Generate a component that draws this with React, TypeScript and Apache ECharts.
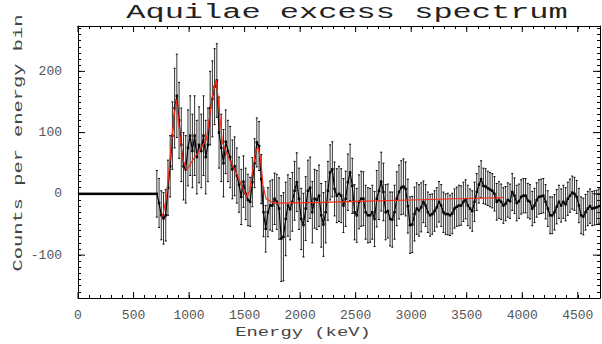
import React, { useEffect, useRef } from "react";
import * as echarts from "echarts";

// Bin width (keV) and bin start energies
const BIN_WIDTH = 20;
// Region below ~700 keV: no counts (zero, no error bars)
const zeroRegion = [
  0, 0, 0, 0, 0, 0, 0, 0, 0, 0,
  0, 0, 0, 0, 0, 0, 0, 0, 0, 0,
  0, 0, 0, 0, 0, 0, 0, 0, 0, 0,
  0, 0, 0, 0, 0,
];
// 710 .. 1470 keV
const counts1 = [
  0, -15, -35, -40, -35, 10, 45, 95, 140, 160,
  120, 80, 45, 40, 75, 95, 70, 95, 60, 80,
  70, 95, 60, 80, 140, 155, 175, 185, 100, 75,
  50, 85, 70, 60, 40, 45, 30, 15, -5,
];
const errors1 = [
  38, 40, 40, 42, 42, 45, 50, 55, 65, 68,
  62, 60, 55, 55, 62, 65, 60, 65, 60, 62,
  60, 65, 60, 60, 60, 62, 62, 60, 58, 55,
  55, 52, 50, 50, 48, 48, 45, 45, 45,
];
// 1490 .. 2270 keV
const counts2 = [
  20, 0, -10, -13, 19, 50, 84, 78, 24, -30,
  -57, -30, -19, -19, -8, -13, -24, -73, -70, -41,
  -19, -25, -13, 5, 19, -8, -41, -51, -24, 5,
  10, -30, -8, -10, -3, -35, -50, -30, 5, 35,
];
const errors2 = [
  42, 42, 42, 40, 40, 40, 40, 40, 40, 40,
  38, 40, 40, 42, 42, 45, 50, 70, 72, 60,
  50, 50, 48, 48, 48, 50, 50, 52, 52, 50,
  50, 50, 48, 48, 50, 52, 52, 50, 48, 45,
];
// 2290 .. 3090 keV
const counts3 = [
  40, 8, -3, 0, -3, -19, -8, 19, 35, 13,
  -30, -35, -13, -8, -8, -30, -35, -35, -30, -41,
  -8, 5, 20, 3, -30, -28, -41, -42, -30, -8,
  3, 10, 12, 8, -20, -51, -50, -33, -24, -27,
  -22,
];
const errors3 = [
  45, 44, 44, 45, 44, 44, 45, 46, 46, 45,
  45, 44, 44, 45, 44, 44, 45, 44, 44, 45,
  46, 47, 48, 47, 45, 44, 44, 45, 44, 44,
  44, 44, 45, 44, 44, 46, 46, 44, 42, 42,
  40,
];
// 3110 .. 3890 keV
const counts4 = [
  -13, -19, -30, -35, -33, -28, -22, -13, -19, -30,
  -33, -33, -35, -32, -24, -21, -19, -19, -13, -9,
  -19, -24, -28, -13, 3, 15, 24, 13, 12, 9,
  7, 5, 0, -13, -10, -13, -19, -16, -10, -12,
];
const errors4 = [
  34, 34, 33, 34, 33, 33, 32, 33, 34, 33,
  33, 34, 33, 33, 32, 32, 33, 32, 32, 32,
  33, 32, 33, 32, 30, 30, 30, 29, 29, 28,
  28, 28, 28, 30, 30, 29, 29, 28, 28, 28,
];
// 3910 .. 4690 keV
const counts5 = [
  3, -3, -15, -12, -5, -3, -3, -11, -13, -24,
  -19, -10, -5, -4, -3, -13, -24, -35, -35, -30,
  -21, -13, -19, -13, -17, -8, -3, 2, 0, -5,
  -19, -35, -37, -30, -24, -20, -24, -23, -22, -20,
];
const errors5 = [
  30, 29, 29, 28, 28, 28, 28, 28, 28, 28,
  28, 28, 28, 28, 28, 28, 29, 30, 30, 29,
  28, 27, 27, 27, 27, 27, 27, 27, 27, 27,
  28, 30, 30, 29, 28, 28, 28, 28, 28, 28,
];

// Fitted model (red curve)
const modelEnergy = [
  750, 770, 800, 830, 860, 887, 910, 940, 975, 1000,
  1050, 1100, 1156, 1180, 1210, 1245, 1270, 1300, 1340, 1380,
  1425, 1470, 1500, 1523, 1545, 1570, 1600, 1622, 1645, 1665,
  1693, 1740, 1783, 2200, 2600, 3000, 3400, 3825,
];
const modelValue = [
  -39, -30, 0, 60, 120, 154, 110, 60, 40, 45,
  60, 72, 89, 120, 160, 186, 140, 84, 65, 50,
  35, 15, 2, -5, 5, 35, 70, 76, 55, 15,
  -8, -13, -15, -14, -12, -10, -8, -6,
];

const xTickLabels = [0, 500, 1000, 1500, 2000, 2500, 3000, 3500, 4000, 4500];
const yTickLabels = [-100, 0, 100, 200];

const X_MIN = 0;
const X_MAX = 4700;
const Y_MIN = -170;
const Y_MAX = 274;

const FONT = '"Liberation Mono", "DejaVu Sans Mono", monospace';

export default function App() {
  const ref = useRef<HTMLDivElement>(null);

  useEffect(() => {
    if (!ref.current) return;
    const chart = echarts.init(ref.current, undefined, { renderer: "svg" });

    const allCounts = [...zeroRegion, ...counts1, ...counts2, ...counts3, ...counts4, ...counts5];
    const allErrors = [
      ...zeroRegion.map(() => 0),
      ...errors1, ...errors2, ...errors3, ...errors4, ...errors5,
    ];
    const points = allCounts.map((v, i) => [i * BIN_WIDTH + BIN_WIDTH / 2, v]);
    const errData = allCounts
      .map((v, i) => [i * BIN_WIDTH + BIN_WIDTH / 2, v, allErrors[i]])
      .filter((d) => d[2] > 0);
    const modelData = modelEnergy.map((e, i) => [e, modelValue[i]]);

    const axisCommonX = {
      type: "value" as const,
      min: X_MIN,
      max: X_MAX,
      interval: 100,
      splitLine: { show: false },
      axisLine: { show: true, onZero: false, lineStyle: { color: "#000", width: 1 } },
      axisTick: { show: true, inside: true, length: 3, lineStyle: { color: "#000", width: 1 } },
    };
    const axisCommonY = {
      type: "value" as const,
      min: Y_MIN,
      max: Y_MAX,
      interval: 10,
      splitLine: { show: false },
      axisLine: { show: true, onZero: false, lineStyle: { color: "#000", width: 1 } },
      axisTick: { show: true, inside: true, length: 3, lineStyle: { color: "#000", width: 1 } },
    };

    const option: any = {
      animation: false,
      backgroundColor: "#fff",
      grid: { left: 78, right: 2, top: 26, bottom: 46, containLabel: false },
      xAxis: [
        {
          ...axisCommonX,
          position: "bottom",
          axisLabel: {
            show: true,
            margin: 11,
            color: "#555",
            fontFamily: FONT,
            fontSize: 13,
            showMaxLabel: false,
            formatter: (v: number) => (xTickLabels.includes(v) ? String(v) : ""),
          },
        },
        { ...axisCommonX, position: "top", axisLabel: { show: false } },
      ],
      yAxis: [
        {
          ...axisCommonY,
          position: "left",
          axisLabel: {
            show: true,
            margin: 16,
            color: "#555",
            fontFamily: FONT,
            fontSize: 13,
            showMinLabel: false,
            showMaxLabel: false,
            formatter: (v: number) => (yTickLabels.includes(v) ? String(v) : ""),
          },
        },
        { ...axisCommonY, position: "right", axisLabel: { show: false } },
      ],
      graphic: [
        {
          type: "text",
          x: 347,
          y: 13,
          scaleX: 1.6,
          style: {
            text: "Aquilae excess spectrum",
            font: `20px ${FONT}`,
            fill: "#222",
            align: "center",
            verticalAlign: "middle",
            textAlign: "center",
            textVerticalAlign: "middle",
          },
        },
        {
          type: "text",
          x: 303,
          y: 333,
          scaleX: 1.57,
          style: {
            text: "Energy (keV)",
            font: `12px ${FONT}`,
            fill: "#444",
            align: "center",
            verticalAlign: "middle",
            textAlign: "center",
            textVerticalAlign: "middle",
          },
        },
        {
          type: "text",
          x: 19,
          y: 143,
          rotation: Math.PI / 2,
          scaleX: 1.7,
          style: {
            text: "Counts per energy bin",
            font: `12px ${FONT}`,
            fill: "#444",
            align: "center",
            verticalAlign: "middle",
            textAlign: "center",
            textVerticalAlign: "middle",
          },
        },
      ],
      series: [
        {
          name: "errors",
          type: "custom",
          data: errData,
          encode: { x: 0, y: 1 },
          z: 2,
          renderItem: (params: any, api: any) => {
            const x = api.value(0);
            const v = api.value(1);
            const e = api.value(2);
            const top = api.coord([x, v + e]);
            const bot = api.coord([x, v - e]);
            return {
              type: "group",
              children: [
                {
                  type: "line",
                  shape: { x1: top[0], y1: top[1], x2: bot[0], y2: bot[1] },
                  style: { stroke: "#333", lineWidth: 1 },
                },
                {
                  type: "line",
                  shape: { x1: top[0] - 1, y1: top[1], x2: top[0] + 1, y2: top[1] },
                  style: { stroke: "#000", lineWidth: 1 },
                },
                {
                  type: "line",
                  shape: { x1: bot[0] - 1, y1: bot[1], x2: bot[0] + 1, y2: bot[1] },
                  style: { stroke: "#000", lineWidth: 1 },
                },
              ],
            };
          },
        },
        {
          name: "counts",
          type: "line",
          data: points,
          z: 3,
          symbol: "rect",
          symbolSize: 2.5,
          showSymbol: true,
          itemStyle: { color: "#000" },
          lineStyle: { color: "#000", width: 1.2 },
        },
        {
          name: "model",
          type: "line",
          data: modelData,
          z: 4,
          symbol: "none",
          lineStyle: { color: "#ff2a14", width: 1.2 },
        },
        {
          name: "majorX",
          type: "custom",
          data: xTickLabels.map((v) => [v, 0]),
          encode: { x: 0, y: 1 },
          z: 5,
          silent: true,
          renderItem: (params: any, api: any) => {
            const cs = params.coordSys;
            const px = api.coord([api.value(0), 0])[0];
            return {
              type: "group",
              children: [
                {
                  type: "line",
                  shape: { x1: px, y1: cs.y + cs.height, x2: px, y2: cs.y + cs.height - 6 },
                  style: { stroke: "#000", lineWidth: 1 },
                },
                {
                  type: "line",
                  shape: { x1: px, y1: cs.y, x2: px, y2: cs.y + 6 },
                  style: { stroke: "#000", lineWidth: 1 },
                },
              ],
            };
          },
        },
        {
          name: "majorY",
          type: "custom",
          data: yTickLabels.map((v) => [100, v]),
          encode: { x: 0, y: 1 },
          z: 5,
          silent: true,
          renderItem: (params: any, api: any) => {
            const cs = params.coordSys;
            const py = api.coord([100, api.value(1)])[1];
            return {
              type: "group",
              children: [
                {
                  type: "line",
                  shape: { x1: cs.x, y1: py, x2: cs.x + 7, y2: py },
                  style: { stroke: "#000", lineWidth: 1 },
                },
                {
                  type: "line",
                  shape: { x1: cs.x + cs.width, y1: py, x2: cs.x + cs.width - 7, y2: py },
                  style: { stroke: "#000", lineWidth: 1 },
                },
              ],
            };
          },
        },
      ],
    };

    chart.setOption(option);
    return () => {
      chart.dispose();
    };
  }, []);

  return (
    <div
      ref={ref}
      style={{ position: "fixed", left: 0, top: 0, width: 602, height: 344, background: "#fff" }}
    />
  );
}
